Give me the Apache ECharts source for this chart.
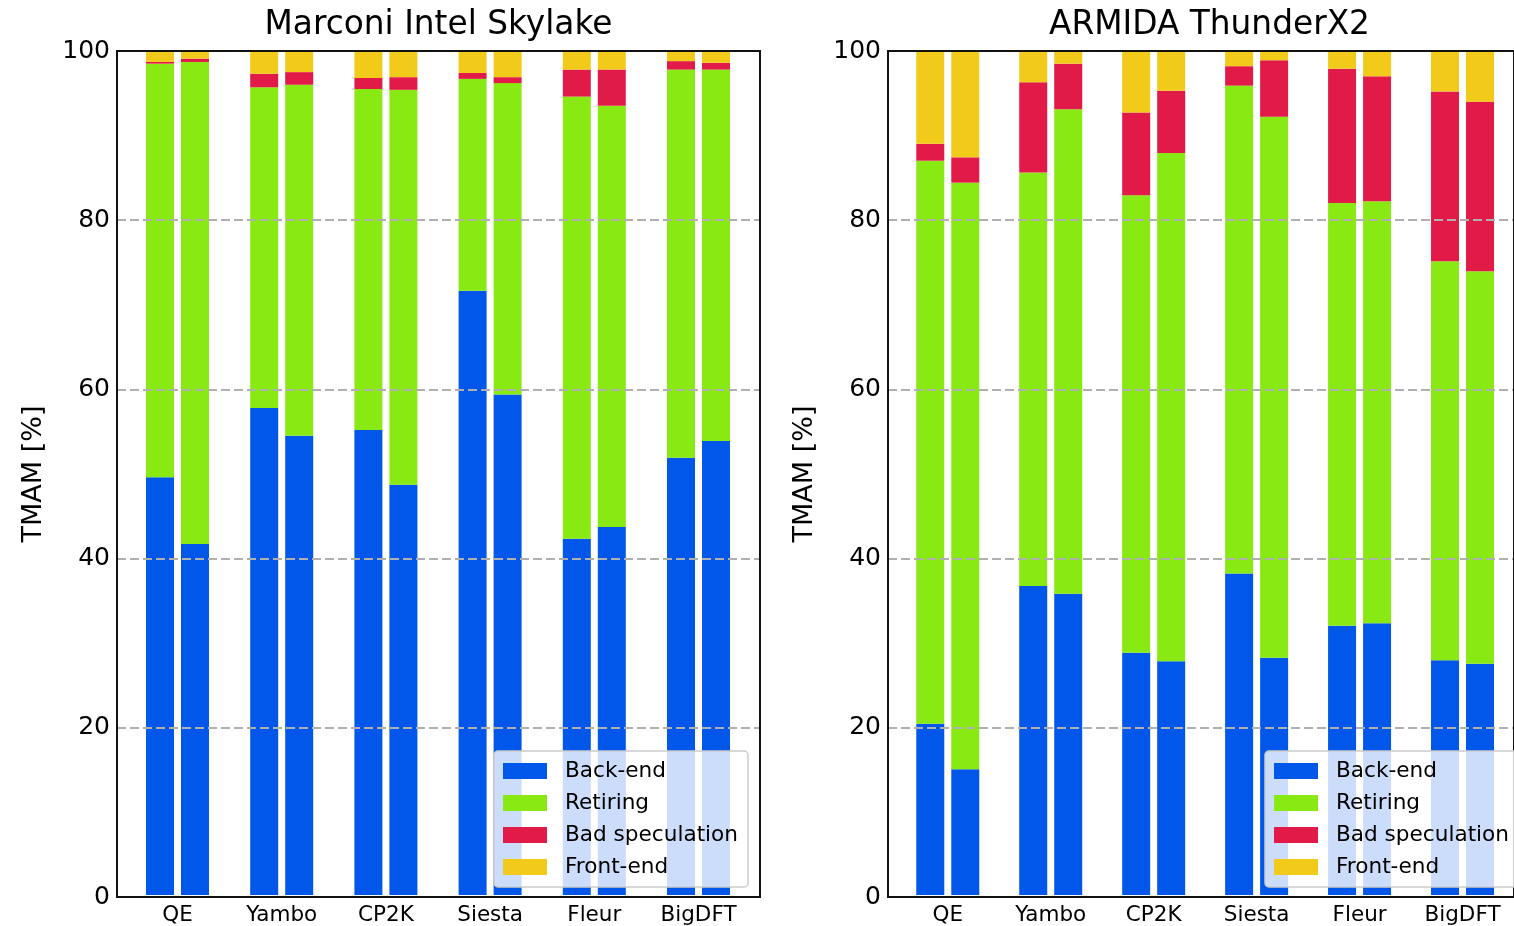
<!DOCTYPE html>
<html>
<head>
<meta charset="utf-8">
<script src="https://cdn.jsdelivr.net/npm/echarts@6/dist/echarts.min.js"></script>
<style>html,body{margin:0;padding:0;background:#fff}#c{width:1514px;height:926px}</style>
</head>
<body>
<div id="c"></div>
<script>
const categories = ['QE', 'Yambo', 'CP2K', 'Siesta', 'Fleur', 'BigDFT'];
const yTicks = [0, 20, 40, 60, 80, 100];
const titles = ['Marconi Intel Skylake', 'ARMIDA ThunderX2'];
const segmentNames = ['Back-end', 'Retiring', 'Bad speculation', 'Front-end'];

// Marconi Intel Skylake, first bar of each pair
const skyBackend1  = [49.5, 57.7, 55.1, 71.6, 42.2, 51.8];
const skyRetiring1 = [49.0, 38.0, 40.4, 25.1, 52.4, 46.0];
const skyBadSpec1  = [0.2, 1.6, 1.3, 0.7, 3.2, 1.0];
const skyFrontend1 = [1.3, 2.7, 3.2, 2.6, 2.2, 1.2];
// Marconi Intel Skylake, second bar of each pair
const skyBackend2  = [41.6, 54.4, 48.6, 59.3, 43.6, 53.8];
const skyRetiring2 = [57.1, 41.6, 46.8, 36.9, 49.9, 44.0];
const skyBadSpec2  = [0.4, 1.5, 1.5, 0.7, 4.3, 0.8];
const skyFrontend2 = [0.9, 2.5, 3.1, 3.1, 2.2, 1.4];

// ARMIDA ThunderX2, first bar of each pair
const tx2Backend1  = [20.3, 36.6, 28.7, 38.1, 31.9, 27.8];
const tx2Retiring1 = [66.7, 49.0, 54.2, 57.8, 50.1, 47.3];
const tx2BadSpec1  = [2.0, 10.7, 9.8, 2.3, 15.9, 20.1];
const tx2Frontend1 = [11.0, 3.7, 7.3, 1.8, 2.1, 4.8];
// ARMIDA ThunderX2, second bar of each pair
const tx2Backend2  = [14.9, 35.7, 27.7, 28.1, 32.2, 27.4];
const tx2Retiring2 = [69.5, 57.4, 60.2, 64.1, 50.0, 46.5];
const tx2BadSpec2  = [3.0, 5.4, 7.4, 6.7, 14.8, 20.1];
const tx2Frontend2 = [12.6, 1.5, 4.7, 1.1, 3.0, 6.0];

const colors = ['#0057e9', '#89e912', '#e21a47', '#f2ca1a'];
const FONT = 'DejaVu Sans';

const panels = [
  { runs: [[skyBackend1, skyRetiring1, skyBadSpec1, skyFrontend1],
           [skyBackend2, skyRetiring2, skyBadSpec2, skyFrontend2]] },
  { runs: [[tx2Backend1, tx2Retiring1, tx2BadSpec1, tx2Frontend1],
           [tx2Backend2, tx2Retiring2, tx2BadSpec2, tx2Frontend2]] }
];

// layout: frame grids and bar grids
const frameGrids = [
  { left: 117, right: 754, top: 51, bottom: 29 },
  { left: 888, right: -17, top: 51, bottom: 29 }
];
const barGrids = [
  { left: 125.4, right: 763.4, top: 51, bottom: 29 },
  { left: 896.3, right: -8.7, top: 51, bottom: 29 }
];

const grid = [], xAxis = [], yAxis = [], series = [], title = [], legend = [];
panels.forEach((p, pi) => {
  const fg = frameGrids[pi], bg = barGrids[pi];
  const fgi = grid.length;
  grid.push(Object.assign({ show: true, borderColor: '#111', borderWidth: 2, backgroundColor: 'transparent', z: 6 }, fg));
  const bgi = grid.length;
  grid.push(Object.assign({ show: false }, bg));

  xAxis.push({ gridIndex: fgi, type: 'category', data: categories, show: false });
  const bxi = xAxis.length;
  xAxis.push({ gridIndex: bgi, type: 'category', data: categories,
    axisLine: { show: false }, axisTick: { show: false },
    axisLabel: { fontFamily: FONT, fontSize: 21.5, color: '#000', margin: 9 } });

  yAxis.push({ gridIndex: fgi, type: 'value', min: yTicks[0], max: yTicks[yTicks.length - 1], interval: 20, z: 5,
    name: 'TMAM [%]', nameLocation: 'middle', nameGap: 70, nameRotate: 90,
    nameTextStyle: { fontFamily: FONT, fontSize: 27, color: '#000' },
    axisLine: { show: false }, axisTick: { show: false },
    axisLabel: { fontFamily: FONT, fontSize: 25, color: '#000', margin: 7 },
    splitLine: { show: true, lineStyle: { color: '#b0b0b0', width: 2, type: [9, 4] } } });
  const byi = yAxis.length;
  yAxis.push({ gridIndex: bgi, type: 'value', min: 0, max: 100, show: false, splitLine: { show: false } });

  p.runs.forEach((run, ri) => {
    run.forEach((vals, si) => {
      series.push({
        type: 'bar', name: segmentNames[si], xAxisIndex: bxi, yAxisIndex: byi,
        stack: 'p' + pi + 'r' + ri, data: vals, barWidth: 28, barGap: '25%',
        itemStyle: { color: colors[si] }, z: 2,
        emphasis: { disabled: true }
      });
    });
  });

  title.push({ text: titles[pi], left: (pi === 0 ? 438.5 : 1209.5), top: 9, textAlign: 'center', padding: 0,
    textStyle: { fontFamily: FONT, fontSize: 32.8, fontWeight: 'normal', color: '#000' } });

  legend.push({ data: segmentNames, orient: 'vertical', left: (pi === 0 ? 494 : 1265), top: 751,
    itemWidth: 44, itemHeight: 16, itemGap: 10, icon: 'rect', z: 10,
    padding: [9, 10, 9, 9], backgroundColor: 'rgba(255,255,255,0.8)',
    borderColor: '#cccccc', borderWidth: 1.5, borderRadius: 4, selectedMode: false,
    textStyle: { fontFamily: FONT, fontSize: 21.6, color: '#000', lineHeight: 22, padding: [0, 0, 0, 13] } });
});

const chart = echarts.init(document.getElementById('c'), null, { renderer: 'canvas' });
chart.setOption({ animation: false, color: colors, grid, xAxis, yAxis, series, title, legend });
</script>
</body>
</html>
